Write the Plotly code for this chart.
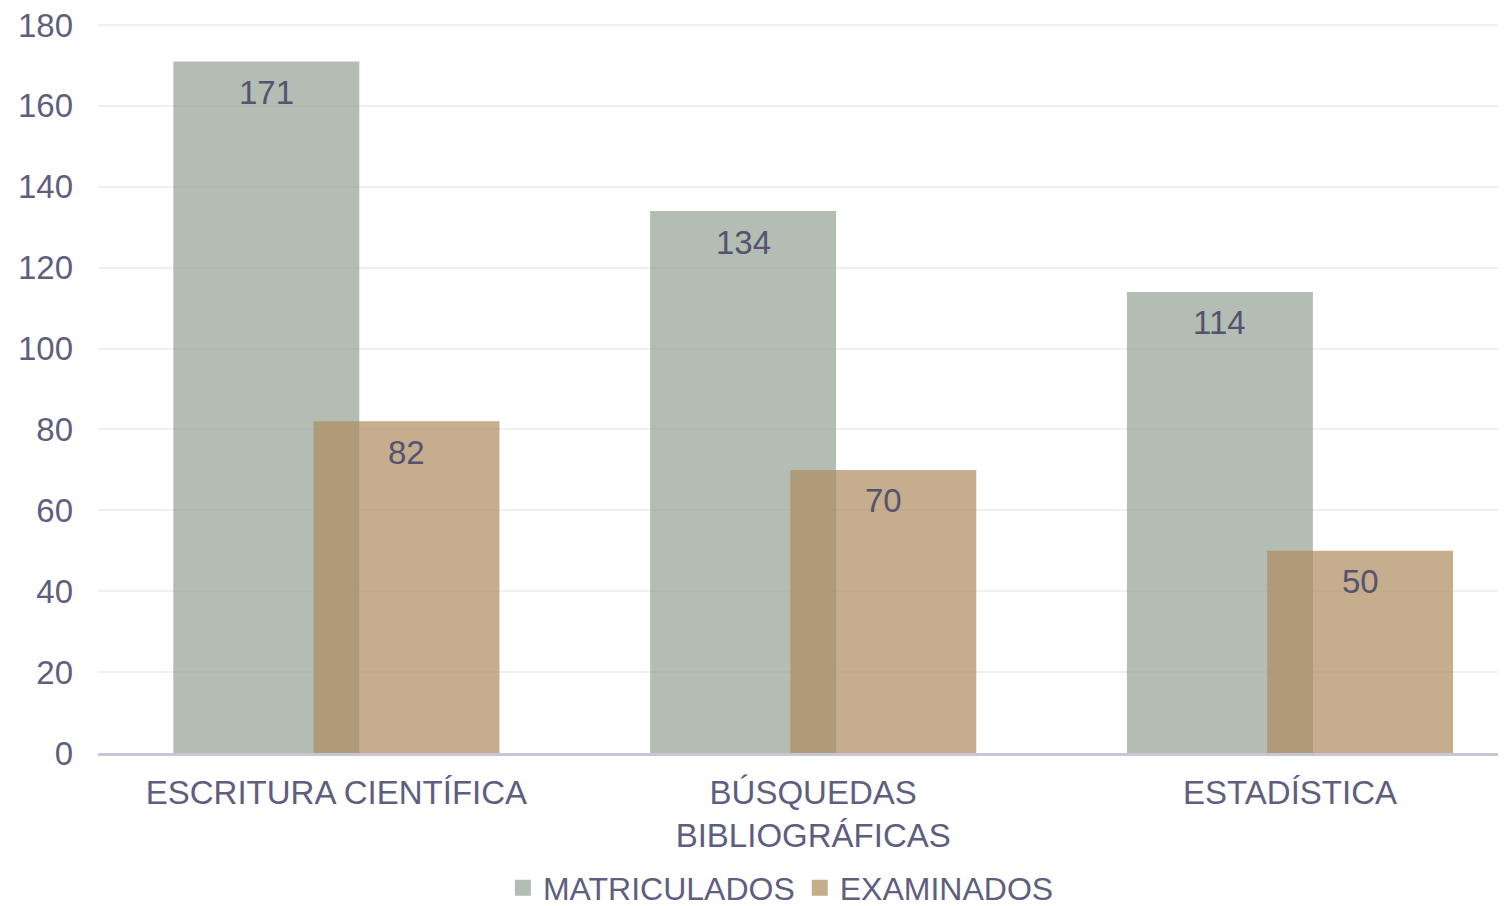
import plotly.graph_objects as go

categories = ["ESCRITURA CIENTÍFICA", "BÚSQUEDAS<br>BIBLIOGRÁFICAS", "ESTADÍSTICA"]
matriculados = [171, 134, 114]
examinados = [82, 70, 50]
y_ticks = [0, 20, 40, 60, 80, 100, 120, 140, 160, 180]

TEXT = "#605e7e"
LABEL = "#55536f"
FONT = "Liberation Sans, Arial, sans-serif"
FS = 33
C_MAT = "rgba(149,163,151,0.72)"
C_EXA = "rgba(174,141,99,0.72)"

xs = list(range(len(categories)))
W = 0.39
OFF_M = -0.342
OFF_E = -0.048

fig = go.Figure()
fig.add_trace(go.Bar(
    x=xs, y=matriculados, name="MATRICULADOS",
    width=W, offset=OFF_M,
    marker=dict(color=C_MAT, line=dict(width=0)),
    showlegend=False,
))
fig.add_trace(go.Bar(
    x=xs, y=examinados, name="EXAMINADOS",
    width=W, offset=OFF_E,
    marker=dict(color=C_EXA, line=dict(width=0)),
    showlegend=False,
))
# data labels, placed near the top inside each bar
for vals, off in [(matriculados, OFF_M), (examinados, OFF_E)]:
    for xi, v in zip(xs, vals):
        fig.add_annotation(
            x=xi + off + W / 2, y=v, xref="x", yref="y",
            text=str(v), showarrow=False, yanchor="middle", yshift=-31,
            font=dict(family=FONT, size=FS, color=LABEL),
        )
# legend entries with square symbols
for name, col in [("MATRICULADOS", C_MAT), ("EXAMINADOS", C_EXA)]:
    fig.add_trace(go.Scatter(
        x=[None], y=[None], mode="markers", name=name,
        marker=dict(symbol="square", size=16, color=col),
    ))

fig.update_layout(
    width=1498, height=898,
    paper_bgcolor="white", plot_bgcolor="white",
    margin=dict(l=90, r=0, t=15, b=153, autoexpand=False),
    barmode="overlay",
    font=dict(family=FONT, size=FS, color=TEXT),
    legend=dict(
        orientation="h", x=0.485, xanchor="center", y=-0.185, yanchor="middle",
        font=dict(family=FONT, size=32, color=TEXT),
        itemsizing="trace", itemwidth=30, traceorder="normal",
    ),
    xaxis=dict(
        tickmode="array", tickvals=xs, ticktext=categories,
        range=[-0.5, 2.453], showgrid=False, zeroline=False,
        showline=True, linecolor="#c8c6d5", linewidth=3,
        ticks="", tickfont=dict(family=FONT, size=FS, color=TEXT),
        ticklabelstandoff=8, automargin=False,
    ),
    yaxis=dict(
        range=[0, 180.5], tickmode="array", tickvals=y_ticks,
        showgrid=True, gridcolor="#f0f0f0", gridwidth=2,
        zeroline=False, showline=False, ticks="",
        tickfont=dict(family=FONT, size=FS, color=TEXT),
        ticklabelstandoff=24, automargin=False,
        ticklabeloverflow="allow",
    ),
)

fig.write_html("out.html")
